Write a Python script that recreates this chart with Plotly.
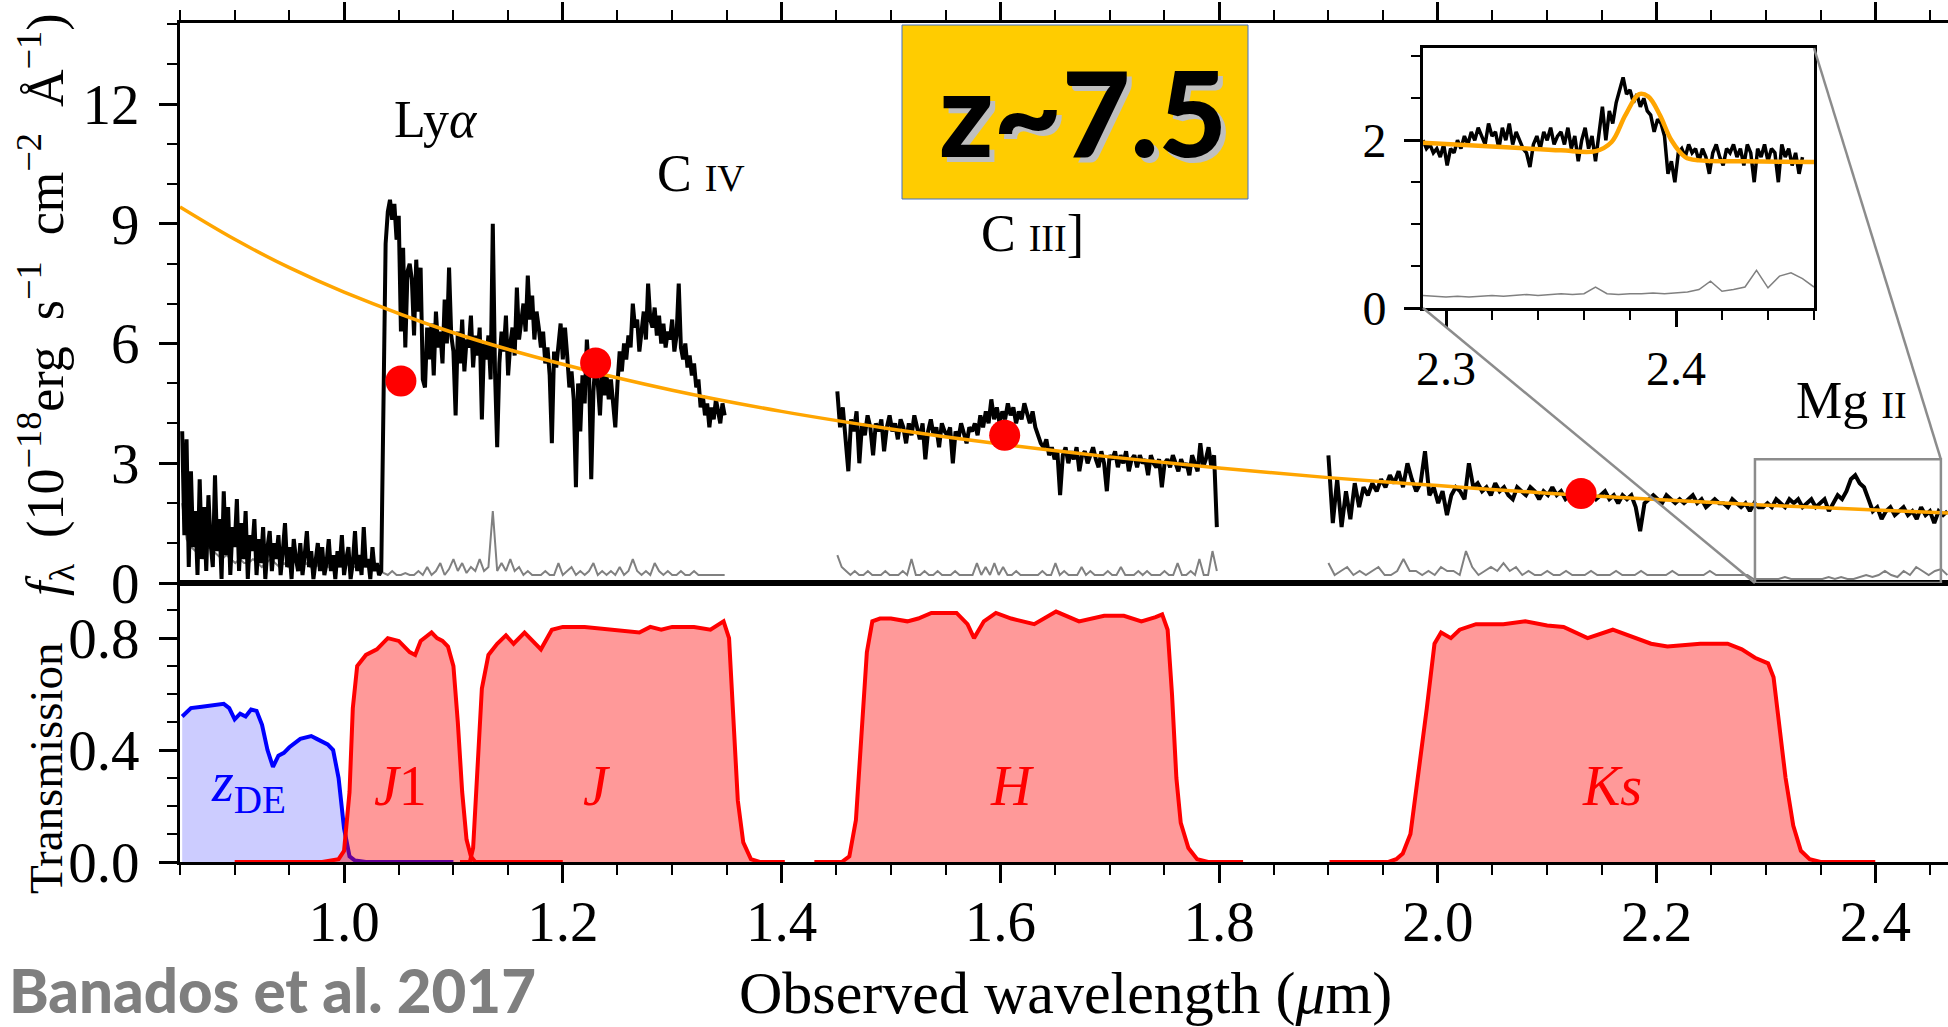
import numpy as np
import plotly.graph_objects as go

# ---------------- DATA ----------------
# Spectrum segments (wavelength range in micron, flux in 1e-18 erg/s/cm2/A)
seg_a_range = (0.852, 1.034)
seg_a_flux = [3.8, 1.2, 3.6, 0.4, 2.8, 0.9, 1.8, 0.2, 2.6, 0.6, 1.9, 0.3, 2.2, 1.0, 0.4, 2.7, 0.8, 1.6, 0.1, 2.3,
              0.7, 1.9, 0.2, 1.4, 0.9, 2.1, 0.3, 1.5, 0.6, 1.8, 0.1, 1.2, 0.8, 1.6, 0.2, 1.1, 0.5, 1.4, 0.1, 0.9,
              1.3, 0.3, 1.0, 0.6, 1.2, 0.2, 0.8, 1.5, 0.4, 0.9, 0.1, 1.1, 0.6, 0.3, 1.0, 0.2, 0.7, 1.3, 0.4, 0.8,
              0.1, 0.6, 1.0, 0.3, 0.9, 0.2, 0.5, 1.1, 0.3, 0.7, 0.1, 0.8, 0.4, 1.2, 0.2, 0.6, 0.9, 0.1, 0.5, 1.3,
              0.3, 0.7, 0.2, 1.4, 0.4, 0.6, 0.1, 0.9, 0.3, 0.5, 0.2, 0.3]
seg_b_range = (1.036, 1.348)
seg_b_flux = [4.8, 8.5, 9.3, 9.6, 9.1, 9.5,
              8.6, 9.2, 6.3, 8.4, 5.9, 7.8, 8.0,
              7.6, 6.2, 8.1, 6.8, 7.9, 5.1, 4.9, 6.4,
              5.6, 6.5, 5.2, 6.8, 5.9, 6.3, 5.5, 7.1, 6.0, 7.9, 6.2, 5.8,
              4.2, 6.3, 5.5, 6.6, 5.3, 6.1, 5.9, 6.7, 5.4, 6.2,
              5.7, 6.4, 4.1, 6.0, 5.6, 6.2, 5.1, 9.0, 5.3, 3.4,
              5.5, 6.3, 5.8, 6.7, 5.2, 6.0, 6.4, 5.7, 7.4, 6.1,
              6.5, 7.0, 6.3, 7.7, 6.6, 7.2, 6.1, 6.8, 6.4, 5.9,
              6.3, 5.5, 5.9, 5.2, 3.5, 5.8, 5.4, 6.1, 6.5, 5.6,
              6.4, 5.7, 4.9, 5.3, 4.6, 2.4, 5.0, 3.8, 5.2, 4.5,
              6.1, 5.3, 2.6, 4.8, 5.6, 5.0, 4.2, 5.4, 4.7, 5.2,
              4.6, 5.1, 4.4, 3.9, 5.0, 5.8, 5.3, 6.0, 5.6, 6.2,
              5.9, 7.0, 6.4, 6.6, 5.8, 6.3, 6.8, 6.1, 7.5, 6.6,
              6.4, 6.9, 6.2, 6.7, 6.0, 6.5, 5.9, 6.3, 6.1, 6.6,
              5.8, 6.2, 7.5, 5.9, 5.6, 6.0, 5.4, 5.7, 5.2, 5.5,
              4.9, 5.1, 4.4, 4.7, 4.2, 4.5, 3.9, 4.4, 4.1, 4.6, 4.3, 4.0, 4.5, 4.2]
seg_c_range = (1.451, 1.798)
seg_c_flux = [4.8, 3.9, 4.4, 3.6, 2.8, 4.1, 3.8, 4.3, 3.0, 4.0,
              3.7, 4.2, 3.9, 3.2, 4.0, 3.8, 4.1, 3.3, 3.9, 4.2,
              3.8, 4.0, 3.6, 4.1, 3.9, 3.5, 4.0, 3.7, 4.2, 3.9,
              3.6, 4.0, 3.1, 3.8, 4.1, 3.7, 3.9, 3.4, 4.0, 3.8,
              3.7, 3.9, 3.0, 3.8, 3.6, 4.0, 3.7, 3.5, 3.9, 3.8,
              4.0, 3.7, 4.2, 3.9, 4.3, 4.0, 4.6, 4.1, 4.4, 4.0,
              4.3, 4.1, 4.5, 4.2, 4.4, 4.0, 4.3, 4.1, 4.5, 4.2,
              4.0, 4.3, 3.9, 3.7, 3.5, 3.4, 3.6, 3.2, 3.4, 3.1,
              3.3, 2.2, 3.2, 3.4, 3.0, 3.3, 3.1, 3.4, 2.8, 3.2,
              3.3, 3.0, 3.2, 3.4, 3.1, 2.9, 3.3, 3.0, 2.3, 3.2,
              3.1, 3.3, 2.9, 3.2, 3.0, 3.3, 2.8, 3.1, 3.2, 2.9,
              3.2, 3.0, 3.1, 2.7, 3.2, 3.0, 2.9, 3.1, 2.4, 3.0,
              3.1, 2.9, 3.2, 3.0, 2.8, 3.1, 2.9, 3.0, 2.7, 3.2,
              3.0, 2.8, 3.5, 2.9, 3.1, 3.4, 2.9, 3.2, 1.4]
seg_d_range = (1.900, 2.466)
seg_d_flux = [3.2, 1.5, 2.6, 1.4, 2.3, 1.6, 2.5, 1.9, 2.4, 2.2,
              2.5, 2.3, 2.6, 2.4, 2.7, 2.5, 2.8, 2.4, 3.0, 2.6,
              2.3, 2.5, 3.3, 2.2, 2.4, 2.0, 2.3, 1.7, 2.2, 2.4,
              2.3, 2.1, 3.0, 2.4, 2.5, 2.3, 2.4, 2.2, 2.5, 2.3,
              2.4, 2.2, 2.1, 2.4, 2.3, 2.2, 2.4, 2.3, 2.1, 2.3,
              2.2, 2.4, 2.2, 2.3, 2.1, 2.2, 2.3, 2.2, 2.0, 2.2,
              2.3, 2.1, 2.2, 2.3, 2.1, 2.2, 2.0, 2.2, 2.1, 2.2,
              1.9, 1.3, 2.0, 2.1, 2.2, 2.1, 2.0, 2.2, 2.1, 2.0,
              2.1, 2.0, 2.1, 2.2, 2.0, 2.1, 1.9, 2.0, 2.1, 2.0,
              2.0, 1.9, 2.1, 2.0, 1.9, 2.0, 1.8, 2.0, 1.9, 1.9,
              2.0, 1.9, 2.1, 2.0, 1.9, 2.1, 2.0, 2.1, 1.9, 2.0,
              2.1, 1.9, 2.0, 2.1, 1.8, 2.0, 2.2, 2.1, 2.3, 2.6,
              2.7, 2.5, 2.4, 2.1, 1.8, 1.9, 1.6, 1.8, 1.9, 1.7,
              1.8, 1.9, 1.7, 1.8, 1.6, 1.9, 1.7, 1.8, 1.5, 1.8, 1.7, 1.8]

# Error spectrum segments
err_a_range = (0.852, 1.034)
err_a = [2.0, 1.1, 0.9, 0.8, 0.7, 0.8, 0.9, 0.8, 0.7, 0.6, 0.7, 0.6, 0.5, 0.6, 0.5, 0.5, 0.6, 0.5, 0.4, 0.5,
         0.6, 0.5, 0.4, 0.5, 0.4, 0.5, 0.6, 0.4, 0.5, 0.4, 0.5, 0.4, 0.5, 0.4, 0.5, 0.4, 0.4, 0.5, 0.4, 0.4,
         0.5, 0.4, 0.4, 0.4, 0.4, 0.3]
err_b_range = (1.036, 1.348)
err_b = [0.25, 0.2, 0.3, 0.2, 0.2, 0.25, 0.2, 0.2, 0.3, 0.2,
         0.4, 0.2, 0.3, 0.5, 0.2, 0.35, 0.6, 0.3, 0.5, 0.25,
         0.4, 0.3, 0.6, 0.3, 0.4, 1.8, 0.3, 0.5, 0.3, 0.6,
         0.3, 0.4, 0.2, 0.3, 0.2, 0.2, 0.2, 0.3, 0.2, 0.2,
         0.5, 0.2, 0.3, 0.4, 0.2, 0.3, 0.2, 0.3, 0.5, 0.2,
         0.3, 0.2, 0.3, 0.2, 0.4, 0.2, 0.3, 0.6, 0.3, 0.2,
         0.3, 0.2, 0.5, 0.3, 0.2, 0.3, 0.2, 0.2, 0.3, 0.2,
         0.2, 0.3, 0.2, 0.2, 0.2, 0.2, 0.2, 0.2, 0.2]
err_c_range = (1.451, 1.798)
err_c = [0.7, 0.4, 0.3, 0.2, 0.3, 0.2, 0.2, 0.3, 0.2, 0.2,
         0.2, 0.3, 0.2, 0.2, 0.2, 0.3, 0.2, 0.6, 0.2, 0.2,
         0.3, 0.2, 0.2, 0.3, 0.2, 0.2, 0.2, 0.3, 0.2, 0.2,
         0.2, 0.2, 0.5, 0.2, 0.4, 0.2, 0.5, 0.2, 0.4, 0.2,
         0.2, 0.3, 0.2, 0.2, 0.2, 0.2, 0.2, 0.3, 0.2, 0.2,
         0.5, 0.2, 0.3, 0.2, 0.2, 0.2, 0.4, 0.2, 0.3, 0.2,
         0.2, 0.2, 0.3, 0.2, 0.2, 0.4, 0.2, 0.2, 0.2, 0.3,
         0.2, 0.3, 0.2, 0.2, 0.2, 0.3, 0.2, 0.2, 0.5, 0.2,
         0.2, 0.3, 0.2, 0.6, 0.2, 0.2, 0.8, 0.3]
err_d_range = (1.900, 2.466)
err_d = [0.5, 0.2, 0.3, 0.4, 0.2, 0.3, 0.2, 0.3, 0.4, 0.2,
         0.2, 0.3, 0.6, 0.3, 0.3, 0.2, 0.3, 0.2, 0.4, 0.3,
         0.3, 0.2, 0.8, 0.4, 0.2, 0.3, 0.4, 0.3, 0.5, 0.3,
         0.4, 0.2, 0.3, 0.2, 0.2, 0.3, 0.2, 0.2, 0.3, 0.2,
         0.2, 0.2, 0.3, 0.2, 0.2, 0.2, 0.3, 0.2, 0.2, 0.2,
         0.3, 0.2, 0.2, 0.2, 0.2, 0.3, 0.2, 0.2, 0.2, 0.2,
         0.2, 0.3, 0.2, 0.2, 0.2, 0.2, 0.2, 0.2, 0.1, 0.1,
         0.1, 0.1, 0.1, 0.15, 0.1, 0.1, 0.1, 0.1, 0.1, 0.1,
         0.15, 0.1, 0.15, 0.1, 0.1, 0.15, 0.2, 0.15, 0.2, 0.3,
         0.2, 0.15, 0.3, 0.2, 0.4, 0.3, 0.2, 0.3, 0.35, 0.2]

# Power-law continuum
cont_wl = [0.85, 0.90, 0.95, 1.00, 1.10, 1.20, 1.30, 1.40, 1.50, 1.60, 1.70, 1.80, 1.90, 2.00, 2.10, 2.20, 2.30, 2.40, 2.47]
cont_fl = [9.42, 8.61, 7.90, 7.29, 6.27, 5.48, 4.83, 4.30, 3.86, 3.48, 3.16, 2.88, 2.64, 2.44, 2.25, 2.09, 1.95, 1.83, 1.75]

# Photometry (red points)
phot_wl = [1.052, 1.230, 1.604, 2.131]
phot_fl = [5.06, 5.51, 3.70, 2.24]

# Inset (Mg II zoom)
inset_range = (2.290, 2.455)
inset_flux = [2.0, 1.9, 1.95, 1.85, 1.9, 1.8, 1.95, 1.7, 1.9, 1.85,
              2.0, 1.9, 2.05, 1.95, 2.1, 2.0, 2.15, 2.05, 1.95, 2.2,
              2.05, 2.1, 1.9, 2.15, 2.0, 2.2, 1.95, 2.1, 2.0, 1.9,
              1.85, 1.68, 1.95, 2.05, 1.9, 2.1, 2.0, 2.15, 1.95, 2.05,
              2.1, 1.95, 2.15, 1.9, 2.05, 1.75, 2.0, 2.15, 1.9, 2.05,
              1.75, 2.1, 2.4, 2.0, 2.35, 2.2, 2.45, 2.6, 2.75, 2.55,
              2.6, 2.45, 2.55, 2.4, 2.5, 2.35, 2.3, 2.1, 2.25, 2.2,
              2.05, 1.6, 1.75, 1.5, 1.85, 1.9, 1.8, 1.95, 1.85, 1.9,
              1.75, 1.9, 1.8, 1.6, 1.85, 1.95, 1.8, 1.7, 1.9, 1.85,
              1.95, 1.8, 1.9, 1.7, 1.95, 1.85, 1.5, 1.9, 1.8, 1.95,
              1.75, 1.9, 1.85, 1.5, 1.95, 1.8, 1.9, 1.7, 1.85, 1.6, 1.8]
inset_err_range = (2.290, 2.460)
inset_err = [0.15, 0.14, 0.13, 0.14, 0.13, 0.14, 0.15, 0.14, 0.15, 0.16, 0.15, 0.16, 0.17, 0.16, 0.17, 0.25,
             0.17, 0.16, 0.17, 0.17, 0.18, 0.17, 0.18, 0.19, 0.22, 0.32, 0.2, 0.22, 0.25, 0.45, 0.24, 0.38,
             0.42, 0.35, 0.25]
inset_fit_wl = [2.290, 2.310, 2.330, 2.350, 2.365, 2.372, 2.378, 2.384, 2.388, 2.393, 2.398, 2.404, 2.410, 2.430, 2.460]
inset_fit_fl = [1.97, 1.94, 1.91, 1.88, 1.87, 1.98, 2.30, 2.55, 2.52, 2.30, 2.00, 1.80, 1.76, 1.75, 1.74]

# Filter transmission curves
zde_wl = [0.852, 0.86, 0.87, 0.88, 0.89, 0.895, 0.90, 0.905, 0.91, 0.915, 0.92, 0.925, 0.93, 0.935, 0.94, 0.945,
          0.95, 0.96, 0.97, 0.975, 0.98, 0.985, 0.99, 0.995, 1.0, 1.005, 1.01, 1.02, 1.05, 1.10]
zde_tr = [0.52, 0.55, 0.555, 0.56, 0.565, 0.55, 0.51, 0.53, 0.52, 0.545, 0.54, 0.49, 0.40, 0.34, 0.38, 0.39,
          0.41, 0.44, 0.45, 0.44, 0.43, 0.42, 0.40, 0.30, 0.12, 0.02, 0.005, 0.0, 0.0, 0.0]
j1_wl = [0.90, 0.98, 0.995, 1.0, 1.005, 1.008, 1.012, 1.02, 1.03, 1.04, 1.05, 1.06, 1.065, 1.07, 1.08, 1.085,
         1.09, 1.095, 1.10, 1.104, 1.108, 1.112, 1.116, 1.12, 1.13, 1.20]
j1_tr = [0.0, 0.0, 0.01, 0.04, 0.25, 0.55, 0.70, 0.74, 0.76, 0.80, 0.79, 0.75, 0.74, 0.79, 0.82, 0.80,
         0.79, 0.77, 0.70, 0.50, 0.25, 0.08, 0.02, 0.0, 0.0, 0.0]
j_wl = [1.106, 1.115, 1.118, 1.122, 1.126, 1.132, 1.14, 1.148, 1.155, 1.165, 1.17, 1.18, 1.19, 1.20, 1.22, 1.25,
        1.27, 1.28, 1.29, 1.30, 1.32, 1.335, 1.343, 1.347, 1.352, 1.356, 1.36, 1.365, 1.372, 1.38, 1.403]
j_tr = [0.0, 0.0, 0.05, 0.35, 0.62, 0.74, 0.78, 0.81, 0.78, 0.82, 0.80, 0.76, 0.83, 0.84, 0.84, 0.83,
        0.82, 0.84, 0.83, 0.84, 0.84, 0.83, 0.85, 0.86, 0.80, 0.50, 0.22, 0.07, 0.01, 0.0, 0.0]
h_wl = [1.43, 1.455, 1.462, 1.468, 1.473, 1.478, 1.483, 1.49, 1.50, 1.515, 1.525, 1.537, 1.56, 1.57, 1.576, 1.585,
        1.596, 1.61, 1.631, 1.651, 1.672, 1.695, 1.713, 1.729, 1.742, 1.748, 1.753, 1.757, 1.761, 1.765, 1.772,
        1.78, 1.79, 1.822]
h_tr = [0.0, 0.0, 0.02, 0.15, 0.45, 0.75, 0.86, 0.87, 0.87, 0.86, 0.87, 0.89, 0.89, 0.85, 0.80, 0.86,
        0.89, 0.87, 0.85, 0.895, 0.86, 0.88, 0.88, 0.86, 0.875, 0.885, 0.83, 0.60, 0.30, 0.14, 0.05,
        0.01, 0.0, 0.0]
ks_wl = [1.901, 1.955, 1.962, 1.968, 1.975, 1.982, 1.99, 1.997, 2.003, 2.012, 2.02, 2.035, 2.06, 2.08, 2.10, 2.115,
         2.137, 2.16, 2.175, 2.195, 2.21, 2.24, 2.265, 2.278, 2.29, 2.302, 2.307, 2.312, 2.318, 2.325, 2.332,
         2.34, 2.35, 2.40]
ks_tr = [0.0, 0.0, 0.01, 0.03, 0.10, 0.30, 0.55, 0.78, 0.82, 0.80, 0.83, 0.85, 0.85, 0.86, 0.845, 0.84,
         0.80, 0.83, 0.81, 0.78, 0.77, 0.78, 0.78, 0.76, 0.73, 0.71, 0.66, 0.50, 0.30, 0.13, 0.04,
         0.01, 0.0, 0.0]

filter_names = ["<i>z</i><sub>DE</sub>", "<i>J</i>1", "<i>J</i>", "<i>H</i>", "<i>Ks</i>"]
filter_label_wl = [0.913, 1.052, 1.231, 1.611, 2.159]
filter_label_tr = [0.27, 0.27, 0.27, 0.27, 0.27]

line_names = ["Ly<i>α</i>", "C <span style='font-size:38px'>IV</span>",
              "C <span style='font-size:38px'>III</span>]", "Mg <span style='font-size:38px'>II</span>"]
line_label_wl = [1.084, 1.326, 1.629, 2.378]
line_label_fl = [11.6, 10.25, 8.75, 4.56]

# ---------------- LAYOUT CONSTANTS ----------------
W, H = 1948, 1027
ML, MR, MT, MB = 180, 0, 23, 165
PW, PH = W - ML - MR, H - MT - MB
X_RANGE = [0.85, 2.4665]
Y_TOP_RANGE = [0, 14.03]
Y_BOT_RANGE = [0, 0.997]
SPLIT = (H - MB - 583) / PH  # bottom of top panel in paper units

def px_x(px):
    return (px - ML) / PW

def px_y(py):
    return (H - MB - py) / PH

INSET_X = [px_x(1423), px_x(1814)]
INSET_Y = [px_y(308), px_y(48)]
INSET_XR = [2.29, 2.46]
INSET_YR = [0, 3.1]

SERIF = "Liberation Serif"
SP = "\u2002"

def grid(rng, vals):
    return np.linspace(rng[0], rng[1], len(vals)).tolist()

fig = go.Figure()

# Error spectrum
err_x = grid(err_a_range, err_a) + grid(err_b_range, err_b) + [None] + grid(err_c_range, err_c) + [None] \
    + grid(err_d_range, err_d)
err_y = err_a + err_b + [None] + err_c + [None] + err_d
fig.add_trace(go.Scatter(x=err_x, y=err_y, mode="lines", line=dict(color="#808080", width=2),
                         xaxis="x2", yaxis="y2", hoverinfo="skip"))

# Flux spectrum
sx = grid(seg_a_range, seg_a_flux) + grid(seg_b_range, seg_b_flux) + [None] + grid(seg_c_range, seg_c_flux) \
    + [None] + grid(seg_d_range, seg_d_flux)
sy = seg_a_flux + seg_b_flux + [None] + seg_c_flux + [None] + seg_d_flux
fig.add_trace(go.Scatter(x=sx, y=sy, mode="lines", line=dict(color="black", width=4),
                         xaxis="x2", yaxis="y2", hoverinfo="skip"))

# Continuum
fig.add_trace(go.Scatter(x=cont_wl, y=cont_fl, mode="lines", line=dict(color="#FFA500", width=3.5, shape="spline"),
                         xaxis="x2", yaxis="y2", hoverinfo="skip"))

# Photometry
fig.add_trace(go.Scatter(x=phot_wl, y=phot_fl, mode="markers", marker=dict(color="#FF0000", size=31),
                         xaxis="x2", yaxis="y2", hoverinfo="skip"))

# Filters
for wl, tr, col, fillc in [
    (zde_wl, zde_tr, "#0000FF", "rgba(0,0,255,0.2)"),
    (j1_wl, j1_tr, "#FF0000", "rgba(255,0,0,0.4)"),
    (j_wl, j_tr, "#FF0000", "rgba(255,0,0,0.4)"),
    (h_wl, h_tr, "#FF0000", "rgba(255,0,0,0.4)"),
    (ks_wl, ks_tr, "#FF0000", "rgba(255,0,0,0.4)"),
]:
    fig.add_trace(go.Scatter(x=wl, y=tr, mode="lines", fill="tozeroy", fillcolor=fillc,
                             line=dict(color=col, width=4), xaxis="x", yaxis="y", hoverinfo="skip"))

# Inset traces
fig.add_trace(go.Scatter(x=grid(inset_err_range, inset_err), y=inset_err, mode="lines",
                         line=dict(color="#808080", width=1.5), xaxis="x3", yaxis="y3", hoverinfo="skip"))
fig.add_trace(go.Scatter(x=grid(inset_range, inset_flux), y=inset_flux, mode="lines",
                         line=dict(color="black", width=3.5), xaxis="x3", yaxis="y3", hoverinfo="skip"))
fig.add_trace(go.Scatter(x=inset_fit_wl, y=inset_fit_fl, mode="lines",
                         line=dict(color="#FFA500", width=4.5, shape="spline"), xaxis="x3", yaxis="y3",
                         hoverinfo="skip"))

axis_common = dict(showline=True, linecolor="black", linewidth=3, showgrid=False, zeroline=False,
                   ticks="outside", tickcolor="black", tickwidth=2.5, ticklen=18,
                   tickfont=dict(family=SERIF, size=57, color="black"))

fig.update_layout(
    width=W, height=H,
    margin=dict(l=ML, r=MR, t=MT, b=MB, pad=0),
    paper_bgcolor="white", plot_bgcolor="white",
    showlegend=False,
    xaxis=dict(domain=[0, 1], range=X_RANGE, anchor="y", dtick=0.2, tick0=0, tickformat=".1f", mirror=True,
               minor=dict(ticks="outside", ticklen=10, tickwidth=2, dtick=0.05, tick0=0, tickcolor="black"),
               ticklabelstandoff=-10, **axis_common),
    yaxis=dict(domain=[0, SPLIT], range=Y_BOT_RANGE, anchor="x", dtick=0.4, tick0=0, tickformat=".1f",
               minor=dict(ticks="outside", ticklen=10, tickwidth=2, dtick=0.1, tick0=0, tickcolor="black"),
               ticklabelstandoff=8, **axis_common),
    xaxis2=dict(domain=[0, 1], range=X_RANGE, anchor="y2", side="top", matches="x", showticklabels=False,
                dtick=0.2, tick0=0, mirror=True,
                minor=dict(ticks="outside", ticklen=10, tickwidth=2, dtick=0.05, tick0=0, tickcolor="black"),
                **axis_common),
    yaxis2=dict(domain=[SPLIT, 1], range=Y_TOP_RANGE, anchor="x2", dtick=3, tick0=0,
                minor=dict(ticks="outside", ticklen=10, tickwidth=2, dtick=1, tick0=0, tickcolor="black"),
                ticklabelstandoff=8, **axis_common),
    xaxis3=dict(domain=INSET_X, range=INSET_XR, anchor="y3", dtick=0.1, tick0=2.3, mirror=True,
                showline=True, linecolor="black", linewidth=3, showgrid=False, zeroline=False,
                ticks="outside", tickcolor="black", tickwidth=2.5, ticklen=16,
                tickfont=dict(family=SERIF, size=48, color="black"), ticklabelstandoff=0,
                minor=dict(ticks="outside", ticklen=9, tickwidth=2, dtick=0.02, tick0=2.3, tickcolor="black")),
    yaxis3=dict(domain=INSET_Y, range=INSET_YR, anchor="x3", dtick=2, tick0=0, mirror=True,
                showline=True, linecolor="black", linewidth=3, showgrid=False, zeroline=False,
                ticks="outside", tickcolor="black", tickwidth=2.5, ticklen=16,
                tickfont=dict(family=SERIF, size=48, color="black"), ticklabelstandoff=8,
                minor=dict(ticks="outside", ticklen=9, tickwidth=2, dtick=0.5, tick0=0, tickcolor="black")),
)

# Zoom rectangle and connector lines
def xpaper_main(v):
    return (v - X_RANGE[0]) / (X_RANGE[1] - X_RANGE[0])

def ypaper_top(v):
    return SPLIT + (v - Y_TOP_RANGE[0]) / (Y_TOP_RANGE[1] - Y_TOP_RANGE[0]) * (1 - SPLIT)

shapes = [
    dict(type="rect", xref="x2", yref="y2", x0=INSET_XR[0], x1=INSET_XR[1], y0=INSET_YR[0], y1=INSET_YR[1],
         line=dict(color="#8c8c8c", width=2.5), layer="above"),
    dict(type="line", xref="paper", yref="paper", x0=INSET_X[0], y0=INSET_Y[0],
         x1=xpaper_main(INSET_XR[0]), y1=ypaper_top(INSET_YR[0]), line=dict(color="#8c8c8c", width=2.5)),
    dict(type="line", xref="paper", yref="paper", x0=INSET_X[1], y0=INSET_Y[1],
         x1=xpaper_main(INSET_XR[1]), y1=ypaper_top(INSET_YR[1]), line=dict(color="#8c8c8c", width=2.5)),
    dict(type="rect", xref="paper", yref="paper", x0=px_x(902), x1=px_x(1248), y0=px_y(199), y1=px_y(25),
         fillcolor="#FFCC00", line=dict(color="#4472C4", width=1), layer="above"),
]
fig.update_layout(shapes=shapes)

ann = []
C = dict(xanchor="center", yanchor="middle", showarrow=False)
for txt, x, y in zip(line_names, line_label_wl, line_label_fl):
    ann.append(dict(text=txt, x=x, y=y, xref="x2", yref="y2", font=dict(family=SERIF, size=52, color="black"), **C))
for i, (txt, x, y) in enumerate(zip(filter_names, filter_label_wl, filter_label_tr)):
    col = "#0000FF" if i == 0 else "#FF0000"
    ann.append(dict(text=txt, x=x, y=y, xref="x", yref="y", font=dict(family=SERIF, size=56, color=col), **C))

# z~7.5 label with shadow
for col, dx, dy in [("#BFBFBF", 5, -5), ("black", 0, 0)]:
    ann.append(dict(text="z~7.5", x=px_x(1083), y=px_y(111), xref="paper", yref="paper",
                    xshift=dx, yshift=dy, font=dict(family="Lato", size=118, color=col, weight=900), **C))

# Axis titles
ytitle = ("<i>f</i><sub>λ</sub>" + SP + "(10<sup>−18</sup>erg" + SP + "s<sup>−1</sup>" + SP +
          "cm<sup>−2</sup>" + SP + "Å<sup>−1</sup>)")
ann.append(dict(text=ytitle, x=px_x(46), y=px_y(305), xref="paper", yref="paper", textangle=-90,
                font=dict(family=SERIF, size=52, color="black"), **C))
ann.append(dict(text="Transmission", x=px_x(46), y=px_y(768), xref="paper", yref="paper",
                textangle=-90, font=dict(family=SERIF, size=47, color="black"), **C))
ann.append(dict(text="Observed wavelength (<i>μ</i>m)", x=px_x(1065), y=px_y(993), xref="paper", yref="paper",
                font=dict(family=SERIF, size=60, color="black"), **C))
ann.append(dict(text="Banados et al. 2017", x=px_x(272), y=px_y(990), xref="paper", yref="paper",
                font=dict(family="Lato", size=60, color="#7F7F7F", weight=900), **C))
fig.update_layout(annotations=ann)

fig.write_html("out.html", config={"displayModeBar": False})
